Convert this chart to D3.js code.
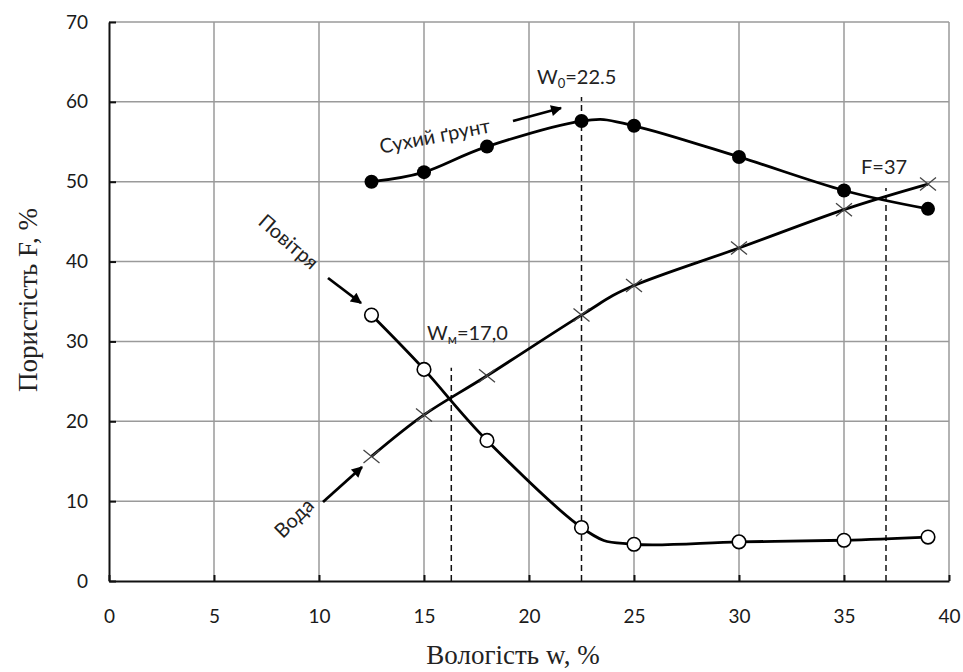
<!DOCTYPE html>
<html>
<head>
<meta charset="utf-8">
<script src="https://cdn.jsdelivr.net/npm/d3@7/dist/d3.min.js"></script>
<style>
  body { margin: 0; background: #fff; }
  .tick-label { font-family: Lato, "Open Sans", sans-serif; font-size: 19px; fill: #1a1a1a; }
  .note { font-family: Lato, "Open Sans", sans-serif; font-size: 20px; fill: #222; }
  .title { font-family: "Liberation Serif", "DejaVu Serif", serif; font-size: 27px; fill: #222; }
</style>
</head>
<body>
<div id="chart"></div>
<script>
// data
var moisture = [12.5, 15, 18, 22.5, 25, 30, 35, 39];
var dry_soil = [50.0, 51.2, 54.4, 57.6, 57.0, 53.1, 48.9, 46.6];
var air      = [33.3, 26.5, 17.6, 6.7, 4.6, 4.9, 5.1, 5.5];
var water    = [15.6, 20.8, 25.7, 33.3, 37.0, 41.7, 46.5, 49.7];

var x_ticks = [0, 5, 10, 15, 20, 25, 30, 35, 40];
var y_ticks = [0, 10, 20, 30, 40, 50, 60, 70];

// dashed guide lines: x position and top value
var guide_x   = [16.3, 22.5, 37];
var guide_top = [26.7, 60.6, 49.2];

// chart settings
var width = 963;
var height = 672;
var margin = {left: 109, right: 14, top: 22, bottom: 91};
var line_width = 2.8;
var grid_color = "#9a9a9a";

var svg = d3.select("#chart")
    .append("svg")
    .attr("width", width)
    .attr("height", height);

var x = d3.scaleLinear().domain([0, 40]).range([margin.left, width - margin.right]);
var y = d3.scaleLinear().domain([0, 70]).range([height - margin.bottom, margin.top]);

// grid
svg.append("g").selectAll("line")
    .data(x_ticks.slice(1))
    .enter().append("line")
    .attr("x1", function(d){ return x(d); })
    .attr("x2", function(d){ return x(d); })
    .attr("y1", y(0))
    .attr("y2", y(70))
    .attr("stroke", grid_color)
    .attr("stroke-width", 1.5);

svg.append("g").selectAll("line")
    .data(y_ticks.slice(1))
    .enter().append("line")
    .attr("x1", x(0))
    .attr("x2", x(40))
    .attr("y1", function(d){ return y(d); })
    .attr("y2", function(d){ return y(d); })
    .attr("stroke", grid_color)
    .attr("stroke-width", 1.5);

// axes
var xAxis = svg.append("g")
    .attr("transform", "translate(0," + y(0) + ")")
    .call(d3.axisBottom(x).tickValues(x_ticks).tickSize(-6).tickSizeOuter(0).tickPadding(29));
var yAxis = svg.append("g")
    .attr("transform", "translate(" + x(0) + ",0)")
    .call(d3.axisLeft(y).tickValues(y_ticks).tickSize(-7).tickSizeOuter(0).tickPadding(21));

[xAxis, yAxis].forEach(function(a){
    a.select(".domain").attr("stroke", "#111").attr("stroke-width", 2);
    a.selectAll(".tick line").attr("stroke", "#111").attr("stroke-width", 2);
    a.selectAll(".tick text").attr("class", "tick-label").attr("fill", null);
});

// guide lines
svg.append("g").selectAll("line")
    .data(guide_x)
    .enter().append("line")
    .attr("x1", function(d){ return x(d); })
    .attr("x2", function(d){ return x(d); })
    .attr("y1", y(0))
    .attr("y2", function(d, i){ return y(guide_top[i]); })
    .attr("stroke", "#111")
    .attr("stroke-width", 1.5)
    .attr("stroke-dasharray", "6,4");

// series lines
var line = d3.line()
    .x(function(d){ return x(d[0]); })
    .y(function(d){ return y(d[1]); })
    .curve(d3.curveCatmullRom.alpha(0));

function pairs(values){ return moisture.map(function(m, i){ return [m, values[i]]; }); }

[dry_soil, air, water].forEach(function(s){
    svg.append("path")
        .datum(pairs(s))
        .attr("d", line)
        .attr("fill", "none")
        .attr("stroke", "#000")
        .attr("stroke-width", line_width);
});

// markers
svg.append("g").selectAll("circle")
    .data(pairs(dry_soil))
    .enter().append("circle")
    .attr("cx", function(d){ return x(d[0]); })
    .attr("cy", function(d){ return y(d[1]); })
    .attr("r", 7)
    .attr("fill", "#000");

svg.append("g").selectAll("circle")
    .data(pairs(air))
    .enter().append("circle")
    .attr("cx", function(d){ return x(d[0]); })
    .attr("cy", function(d){ return y(d[1]); })
    .attr("r", 6.8)
    .attr("fill", "#fff")
    .attr("stroke", "#000")
    .attr("stroke-width", 1.6);

svg.append("g").selectAll("path")
    .data(pairs(water))
    .enter().append("path")
    .attr("d", "M-8,-6.5L8,6.5M-8,6.5L8,-6.5")
    .attr("transform", function(d){ return "translate(" + x(d[0]) + "," + y(d[1]) + ")"; })
    .attr("stroke", "#444")
    .attr("stroke-width", 1.3);

// annotations
function note(txt, px, py, angle){
    return svg.append("text")
        .attr("class", "note")
        .attr("text-anchor", "middle")
        .attr("transform", "translate(" + px + "," + py + ") rotate(" + angle + ")")
        .text(txt);
}

var w0 = svg.append("text").attr("class", "note").attr("x", 537).attr("y", 84);
w0.append("tspan").text("W");
w0.append("tspan").attr("font-size", "13px").attr("dy", 4).text("0");
w0.append("tspan").attr("dy", -4).text("=22.5");

var wm = svg.append("text").attr("class", "note").attr("x", 427).attr("y", 340);
wm.append("tspan").text("W");
wm.append("tspan").attr("font-size", "13px").attr("dy", 4).text("м");
wm.append("tspan").attr("dy", -4).text("=17,0");

svg.append("text").attr("class", "note").attr("x", 861).attr("y", 174).text("F=37");

note("Сухий ґрунт", 436, 143, -11);
note("Повітря", 284, 247, 41);
note("Вода", 299, 523, -45);

// arrows
svg.append("defs").append("marker")
    .attr("id", "arrowHead")
    .attr("viewBox", "0 -5 10 10")
    .attr("refX", 9)
    .attr("refY", 0)
    .attr("markerWidth", 14)
    .attr("markerHeight", 11)
    .attr("markerUnits", "userSpaceOnUse")
    .attr("orient", "auto")
    .append("path")
    .attr("d", "M0,-5L10,0L0,5Z")
    .attr("fill", "#000");

var arrows = [[513, 121, 561, 108], [328, 278, 361, 303], [323, 502, 362, 467]];
svg.append("g").selectAll("line")
    .data(arrows)
    .enter().append("line")
    .attr("x1", function(d){ return d[0]; })
    .attr("y1", function(d){ return d[1]; })
    .attr("x2", function(d){ return d[2]; })
    .attr("y2", function(d){ return d[3]; })
    .attr("stroke", "#000")
    .attr("stroke-width", 2.8)
    .attr("marker-end", "url(#arrowHead)");

// axis titles
svg.append("text")
    .attr("class", "title")
    .attr("text-anchor", "middle")
    .attr("x", 513)
    .attr("y", 664)
    .text("Вологість w, %");

svg.append("text")
    .attr("class", "title")
    .attr("text-anchor", "middle")
    .attr("transform", "translate(37,300) rotate(-90)")
    .text("Пористість F, %");
</script>
</body>
</html>
